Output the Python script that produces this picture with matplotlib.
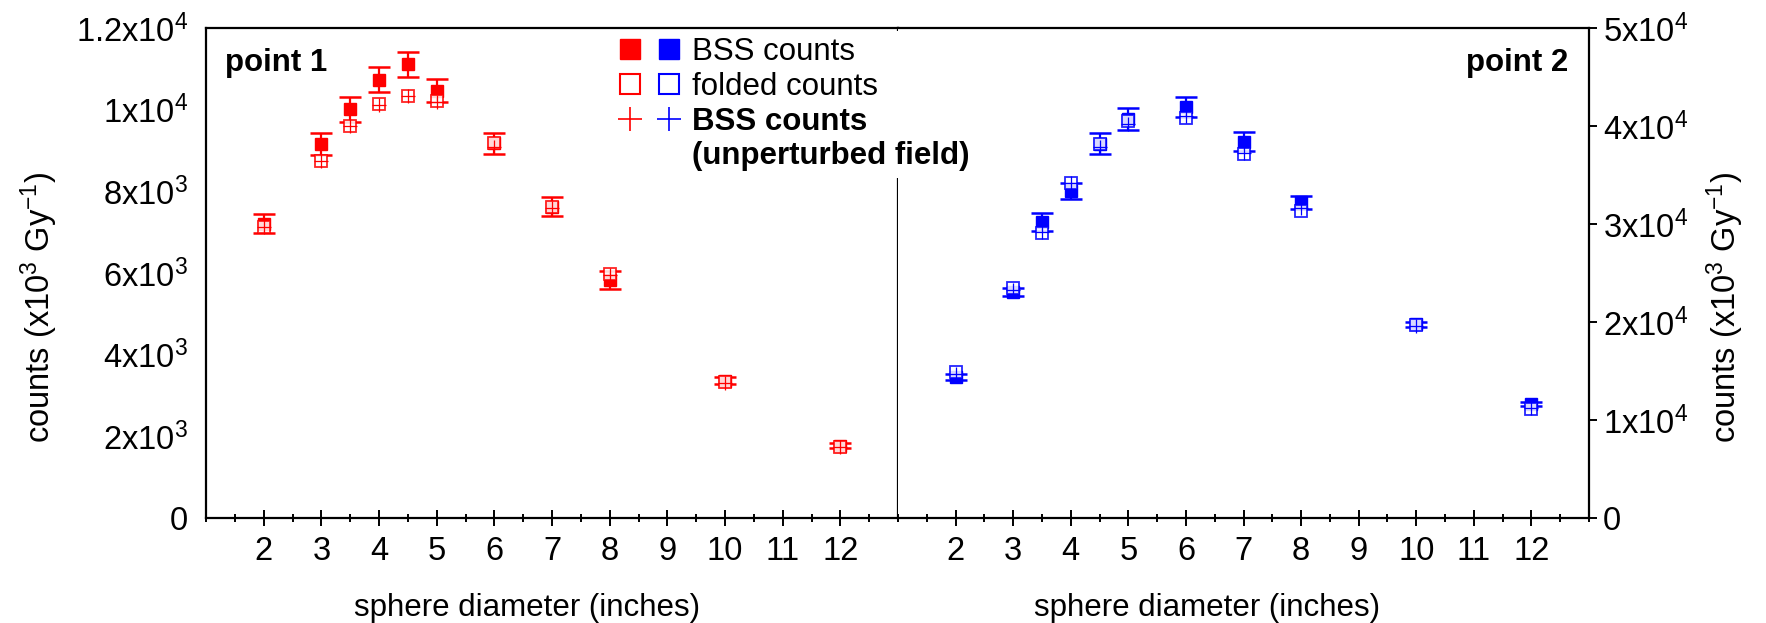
import matplotlib
matplotlib.use("Agg")
import matplotlib.pyplot as plt
from matplotlib.lines import Line2D
from matplotlib.legend_handler import HandlerTuple
from matplotlib.ticker import MultipleLocator

plt.rcParams['font.family'] = ['Liberation Sans', 'DejaVu Sans']
plt.rcParams['mathtext.fontset'] = 'custom'
plt.rcParams['mathtext.rm'] = 'Liberation Sans'
plt.rcParams['mathtext.it'] = 'Liberation Sans:italic'
plt.rcParams['mathtext.bf'] = 'Liberation Sans:bold'

# sphere diameters (inches)
diam = [2, 3, 3.5, 4, 4.5, 5, 6, 7, 8, 10, 12]

# point 1 (left axis)
bss1 = [7210, 9170, 10010, 10730, 11115, 10460, 9175, 7625, 5830, 3360, 1770]
bss1_err = [235, 270, 300, 305, 305, 280, 265, 230, 210, 90, 60]
fold1 = [7115, 8745, 9590, 10135, 10340, 10210, 9185, 7610, 5980, 3340, 1747]
unp1 = [7120, 8745, 9600, 10110, 10340, 10196, 9095, 7600, 5945, 3315, 1740]

# point 2 (right axis)
bss2 = [14350, 23030, 30170, 33370, 38200, 40700, 41970, 38400, 32210, 19750, 11630]
bss2_err = [300, 400, 920, 850, 1055, 1100, 1020, 960, 640, 300, 250]
fold2 = [14930, 23440, 29115, 34200, 38130, 40540, 40830, 37140, 31360, 19690, 11160]
unp2 = [14660, 23270, 29150, 34150, 37890, 40170, 41060, 37210, 31670, 19620, 11190]

yt1 = [0, 2000, 4000, 6000, 8000, 10000, 12000]
yt1_lab = ['0', '2x10$^3$', '4x10$^3$', '6x10$^3$', '8x10$^3$', '1x10$^4$', '1.2x10$^4$']
yt2 = [0, 10000, 20000, 30000, 40000, 50000]
yt2_lab = ['0', '1x10$^4$', '2x10$^4$', '3x10$^4$', '4x10$^4$', '5x10$^4$']
xt = [2, 3, 4, 5, 6, 7, 8, 9, 10, 11, 12]

FS = 22.5
TFS = 23.5
W, H = 1766, 623
fig = plt.figure(figsize=(W / 100, H / 100), dpi=100)
ax1 = fig.add_axes([206 / W, 1 - 518 / H, 692 / W, 490 / H])
ax2 = fig.add_axes([898 / W, 1 - 518 / H, 691 / W, 490 / H])


def draw(ax, bss, err, fold, unp, col):
    ax.errorbar(diam, bss, yerr=err, fmt='none', ecolor=col, elinewidth=1.6,
                capsize=8, capthick=1.8, zorder=2)
    ax.plot(diam, bss, ls='none', marker='s', ms=9, mfc=col, mec=col, zorder=3)
    ax.plot(diam, fold, ls='none', marker='s', ms=9, mfc='white', mec=col,
            mew=1.3, alpha=0.85, zorder=4)
    ax.plot(diam, unp, ls='none', marker='+', ms=10.5, mew=0.9, color=col, zorder=5)
    ax.set_xlim(1, 13)
    ax.set_xticks(xt)
    ax.set_xticklabels([str(v) for v in xt])
    ax.xaxis.set_minor_locator(MultipleLocator(0.5))
    ax.tick_params(axis='x', which='major', direction='inout', length=12, width=1.4,
                   labelsize=TFS, pad=7)
    ax.tick_params(axis='x', which='minor', direction='inout', length=6, width=1.4)
    for s in ax.spines.values():
        s.set_linewidth(1.6)


draw(ax1, bss1, bss1_err, fold1, unp1, 'red')
draw(ax2, bss2, bss2_err, fold2, unp2, 'blue')

ax1.set_ylim(0, 12000)
ax1.set_yticks(yt1)
ax1.set_yticklabels(yt1_lab)
ax1.tick_params(axis='y', length=0, labelsize=TFS, pad=13)
ax1.set_ylabel('counts (x10$^3$ Gy$^{-1}$)', fontsize=TFS)
ax1.yaxis.set_label_coords(-0.211, 0.43)

ax2.set_ylim(0, 50000)
ax2.set_yticks(yt2)
ax2.set_yticklabels(yt2_lab)
ax2.yaxis.tick_right()
ax2.yaxis.set_label_position('right')
ax2.tick_params(axis='y', direction='out', length=6, width=1.4, labelsize=TFS, pad=4)
ax2.set_ylabel('counts (x10$^3$ Gy$^{-1}$)', fontsize=TFS)
ax2.yaxis.set_label_coords(1.167, 0.43)
ax2.spines['left'].set_visible(False)

ax1.text(0.027, 0.913, 'point 1', transform=ax1.transAxes, fontsize=FS,
         fontweight='bold', ha='left', va='baseline')
ax2.text(0.970, 0.913, 'point 2', transform=ax2.transAxes, fontsize=FS,
         fontweight='bold', ha='right', va='baseline')

fig.text(527 / W, 1 - 608 / H, 'sphere diameter (inches)', fontsize=FS,
         ha='center', va='center')
fig.text(1207 / W, 1 - 608 / H, 'sphere diameter (inches)', fontsize=FS,
         ha='center', va='center')

# legend, red and blue marker side by side
h_bss = (Line2D([], [], ls='none', marker='s', ms=15, mfc='red', mec='red'),
         Line2D([], [], ls='none', marker='s', ms=15, mfc='blue', mec='blue'))
h_fold = (Line2D([], [], ls='none', marker='s', ms=14, mfc='white', mec='red', mew=1.5),
          Line2D([], [], ls='none', marker='s', ms=14, mfc='white', mec='blue', mew=1.5))
h_unp = (Line2D([], [], ls='none', marker='+', ms=17, mew=1.2, color='red'),
         Line2D([], [], ls='none', marker='+', ms=17, mew=1.2, color='blue'))
h_blank = Line2D([], [], ls='none')
leg = fig.legend([h_bss, h_fold, h_unp, h_blank],
                 ['BSS counts', 'folded counts', 'BSS counts', '(unperturbed field)'],
                 handler_map={tuple: HandlerTuple(ndivide=None, pad=0.5)},
                 loc='upper left', bbox_to_anchor=(612 / W, 1 - 31 / H),
                 fontsize=FS, handlelength=2.0, handletextpad=0.35,
                 labelspacing=0.15, borderpad=0.2, borderaxespad=0,
                 frameon=True, fancybox=False, framealpha=1,
                 facecolor='white', edgecolor='none')
for t in leg.get_texts()[2:]:
    t.set_fontweight('bold')

fig.savefig('out.png', dpi=100)
